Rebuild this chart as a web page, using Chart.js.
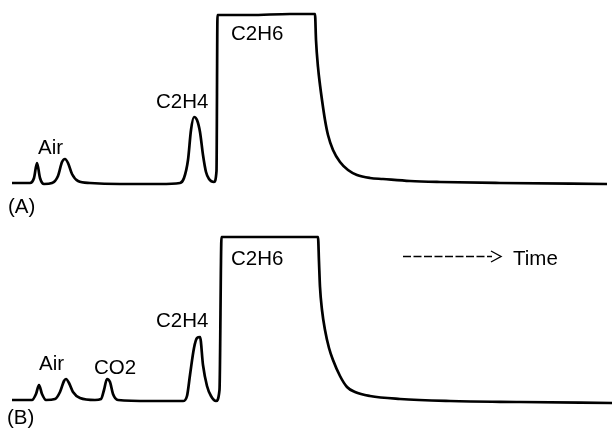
<!DOCTYPE html>
<html>
<head>
<meta charset="utf-8">
<script src="https://cdn.jsdelivr.net/npm/chart.js@4.4.1/dist/chart.umd.min.js"></script>
<style>
  html, body { margin: 0; padding: 0; background: #fff; }
  #wrap { position: relative; width: 613px; height: 429px; overflow: hidden; }
  canvas { position: absolute; left: 0; }
  #cA { top: 0; }
  #cB { top: 214px; }
</style>
</head>
<body>
<div id="wrap">
  <canvas id="cA" width="613" height="224"></canvas>
  <canvas id="cB" width="613" height="215"></canvas>
</div>
<script>
// Chromatogram (A): retention time and detector signal
const timeA = [12, 30, 34, 37, 40, 44, 52, 58, 62, 65, 68, 72, 78, 90, 120, 160, 180, 184, 188, 191, 194, 197, 200, 203, 206, 209, 214, 216.5, 217.5, 250, 290, 315, 316, 318, 320, 322, 325, 328, 333, 340, 348, 357, 370, 383, 410, 440, 500, 607];
const signalA = [0, 0, 5, 20, 5, -1, 0, 7, 21, 24, 20, 9, 2, 0, -1, -1, 0, 5, 23, 53, 66, 63, 51, 28, 11, 4, 1, 12, 168, 168, 169, 169, 143, 116, 98, 83, 63, 48, 33, 21, 13, 8, 5, 4, 2, 1, 0, -1];

// Chromatogram (B): retention time and detector signal
const timeB = [12, 32, 36, 39, 42, 46, 55, 60, 64, 66, 69, 73, 80, 95, 101, 104, 107, 110, 113, 118, 150, 183, 187, 190, 194, 197, 200, 203, 207, 211, 216, 219.5, 221.5, 260, 318, 319, 320, 322, 325, 329, 333, 340, 347, 355, 370, 400, 450, 520, 612];
const signalB = [0, 0, 6, 15, 6, 0, 1, 8, 19, 21, 17, 8, 2, 0, 1, 10, 21, 18, 6, 0, -1, -1, 4, 25, 52, 62, 63, 35, 14, 4, -1, 10, 163, 163, 163, 138, 113, 90, 70, 52, 40, 24, 13, 8, 4, 1, -1, -2, -3];

// Peak annotations: [text, time, signal]
const labelsA = [['Air', 38, 29], ['C2H4', 156, 75], ['C2H6', 231, 143], ['(A)', 8, -30]];
const labelsB = [['Air', 39, 30], ['CO2', 94, 26], ['C2H4', 156, 73], ['C2H6', 231, 135], ['(B)', 7, -24]];

const FONT = '20.5px "Liberation Sans", Arial, Helvetica, sans-serif';

const textPlugin = {
  id: 'peakText',
  afterDatasetsDraw(chart, args, opts) {
    const { ctx, scales: { x, y } } = chart;
    ctx.save();
    ctx.fillStyle = '#000';
    ctx.font = FONT;
    ctx.textAlign = 'left';
    ctx.textBaseline = 'alphabetic';
    for (const [t, tx, ty] of opts.items) {
      ctx.fillText(t, x.getPixelForValue(tx), y.getPixelForValue(ty));
    }
    if (opts.arrow) {
      // dashed time-direction arrow followed by its caption
      const [x0, x1, ay] = opts.arrow;
      const px0 = x.getPixelForValue(x0), px1 = x.getPixelForValue(x1), py = Math.round(y.getPixelForValue(ay)) + 0.5;
      ctx.strokeStyle = '#000';
      ctx.lineWidth = 1.4;
      ctx.setLineDash([8, 2.5]);
      ctx.beginPath();
      ctx.moveTo(px0, py);
      ctx.lineTo(px1, py);
      ctx.stroke();
      ctx.setLineDash([]);
      ctx.beginPath();
      ctx.moveTo(px1 - 1, py - 5.5);
      ctx.lineTo(px1 + 9, py);
      ctx.lineTo(px1 - 1, py + 5.5);
      ctx.stroke();
      ctx.fillText('Time', x.getPixelForValue(opts.arrowText[1]), y.getPixelForValue(opts.arrowText[2]));
    }
    ctx.restore();
  }
};

function makePanel(id, times, signal, yMin, yMax, labelOpts) {
  return new Chart(document.getElementById(id), {
    type: 'line',
    data: {
      datasets: [{
        data: times.map((t, i) => ({ x: t, y: signal[i] })),
        borderColor: '#000',
        borderWidth: 2.7,
        pointRadius: 0,
        cubicInterpolationMode: 'monotone',
        fill: false,
        clip: false
      }]
    },
    options: {
      responsive: false,
      animation: false,
      devicePixelRatio: 1,
      layout: { padding: 0 },
      plugins: { legend: { display: false }, tooltip: { enabled: false }, peakText: labelOpts },
      scales: {
        x: { type: 'linear', min: 0, max: 613, display: false },
        y: { type: 'linear', min: yMin, max: yMax, display: false }
      }
    },
    plugins: [textPlugin]
  });
}

makePanel('cA', timeA, signalA, -41, 183, { items: labelsA });
makePanel('cB', timeB, signalB, -29, 186, { items: labelsB, arrow: [403, 492, 144], arrowText: ['Time', 513, 135] });
</script>
</body>
</html>
